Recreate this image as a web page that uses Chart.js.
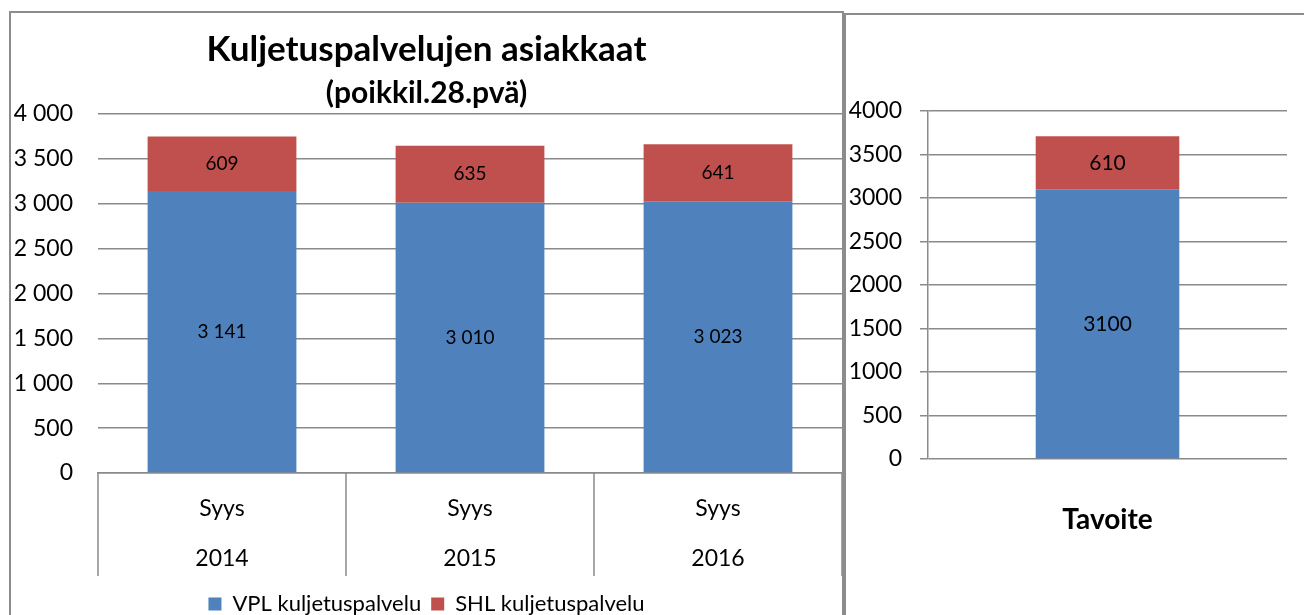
<!DOCTYPE html>
<html>
<head>
<meta charset="utf-8">
<script src="https://cdn.jsdelivr.net/npm/chart.js@4"></script>
<style>
  html, body { margin: 0; padding: 0; background: #fff; overflow: hidden; width: 1304px; height: 615px; }
  .box { position: absolute; box-sizing: border-box; border: 2px solid #8c8c8c; background: #fff; }
  #leftBox { left: 9px; top: 11px; width: 835px; height: 640px; }
  #rightBox { left: 844px; top: 13px; width: 480px; height: 640px; border-right: none; border-bottom: none; }
  canvas { position: absolute; left: 0; top: 0; }
</style>
</head>
<body>
<div class="box" id="leftBox"><canvas id="mainChart" width="831" height="612"></canvas></div>
<div class="box" id="rightBox"><canvas id="targetChart" width="458" height="600"></canvas></div>
<script>
const months = ["Syys", "Syys", "Syys"];
const years = ["2014", "2015", "2016"];
const vplValues = [3141, 3010, 3023];
const shlValues = [609, 635, 641];

const targetLabels = ["Tavoite"];
const targetVpl = [3100];
const targetShl = [610];

const yMax = 4000;
const yStep = 500;

const FONT = "Lato, 'Liberation Sans', sans-serif";
const BLUE = "#4f81bd";
const RED = "#c0504d";
const GRID = "#8a8a8a";

Chart.defaults.font.family = FONT;
Chart.defaults.color = "#000";
Chart.defaults.animation = false;

// "4 000" style thousands separator
function spaced(v) {
  return String(v).replace(/\B(?=(\d{3})+(?!\d))/g, " ");
}

// value labels in the middle of each stacked segment
const segmentLabels = {
  id: "segmentLabels",
  afterDatasetsDraw(chart, args, opts) {
    const ctx = chart.ctx;
    ctx.save();
    ctx.font = opts.size + "px " + FONT;
    ctx.fillStyle = "#000";
    ctx.textAlign = "center";
    ctx.textBaseline = "middle";
    chart.data.datasets.forEach((ds, i) => {
      chart.getDatasetMeta(i).data.forEach((bar, j) => {
        const p = bar.getProps(["x", "y", "base"], true);
        ctx.fillText(opts.format(ds.data[j]), p.x, (p.y + p.base) / 2);
      });
    });
    ctx.restore();
  }
};

// vertical dividers between the category groups under the x axis
const groupDividers = {
  id: "groupDividers",
  afterDraw(chart, args, opts) {
    const xs = chart.scales.x;
    const ctx = chart.ctx;
    ctx.save();
    ctx.strokeStyle = GRID;
    ctx.lineWidth = 1.5;
    for (let i = 0; i <= chart.data.labels.length; i++) {
      const x = Math.round(xs.getPixelForValue(i - 0.5));
      ctx.beginPath();
      ctx.moveTo(x, xs.top);
      ctx.lineTo(x, xs.top + opts.length);
      ctx.stroke();
    }
    ctx.restore();
  }
};

new Chart(document.getElementById("mainChart"), {
  type: "bar",
  plugins: [segmentLabels, groupDividers],
  data: {
    labels: months.map((m, i) => [m, years[i]]),
    datasets: [
      { label: "VPL kuljetuspalvelu", data: vplValues, backgroundColor: BLUE },
      { label: "SHL kuljetuspalvelu", data: shlValues, backgroundColor: RED }
    ]
  },
  options: {
    responsive: false,
    layout: { padding: 0 },
    datasets: { bar: { barPercentage: 0.6, categoryPercentage: 1 } },
    scales: {
      x: {
        stacked: true,
        afterFit(scale) { scale.height = 110; },
        grid: { display: false, drawTicks: false },
        border: { color: GRID, width: 1.5 },
        ticks: { padding: 11, autoSkip: false, maxRotation: 0, font: { size: 23, lineHeight: 2.17 } }
      },
      y: {
        stacked: true,
        min: 0,
        max: yMax,
        afterFit(scale) { scale.width = 87; },
        grid: { drawTicks: false, color: GRID, lineWidth: 1.5 },
        border: { display: false },
        ticks: { stepSize: yStep, padding: 25, font: { size: 23 }, callback: v => spaced(v) }
      }
    },
    plugins: {
      title: {
        display: true,
        text: "Kuljetuspalvelujen asiakkaat",
        font: { size: 35, weight: "bold" },
        padding: { top: 16, bottom: 4 }
      },
      subtitle: {
        display: true,
        text: "(poikkil.28.pvä)",
        color: "#000",
        font: { size: 30, weight: "bold" },
        padding: { top: 0, bottom: 3 }
      },
      legend: {
        position: "bottom",
        labels: { boxWidth: 13, boxHeight: 13, padding: 10, font: { size: 22 } }
      },
      tooltip: { enabled: false },
      segmentLabels: { size: 19, format: spaced },
      groupDividers: { length: 103 }
    }
  }
});

new Chart(document.getElementById("targetChart"), {
  type: "bar",
  plugins: [segmentLabels],
  data: {
    labels: targetLabels,
    datasets: [
      { label: "VPL kuljetuspalvelu", data: targetVpl, backgroundColor: BLUE },
      { label: "SHL kuljetuspalvelu", data: targetShl, backgroundColor: RED }
    ]
  },
  options: {
    responsive: false,
    layout: { padding: { top: 96, right: 17, bottom: 78, left: 0 } },
    datasets: { bar: { barPercentage: 0.4, categoryPercentage: 1 } },
    scales: {
      x: {
        stacked: true,
        afterFit(scale) { scale.height = 78; },
        grid: { display: false, drawTicks: false },
        border: { display: false },
        ticks: { padding: 44, font: { size: 28, weight: "bold" } }
      },
      y: {
        stacked: true,
        min: 0,
        max: yMax,
        afterFit(scale) { scale.width = 82; },
        grid: { tickLength: 8, color: GRID, lineWidth: 1.5 },
        border: { color: GRID, width: 1.5 },
        ticks: { stepSize: yStep, padding: 18, font: { size: 23 }, callback: v => String(v) }
      }
    },
    plugins: {
      legend: { display: false },
      tooltip: { enabled: false },
      segmentLabels: { size: 21, format: v => String(v) }
    }
  }
});
</script>
</body>
</html>
